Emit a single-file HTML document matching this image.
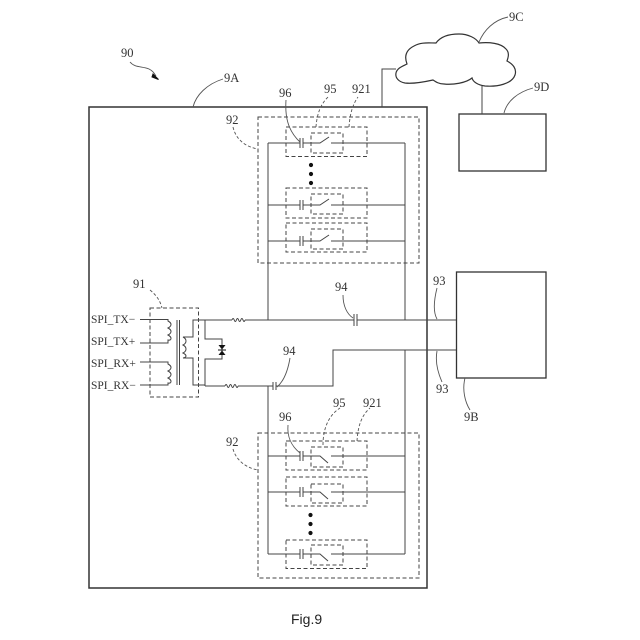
<!DOCTYPE html>
<html><head><meta charset="utf-8"><style>
html,body{margin:0;padding:0;background:#fff}
svg{display:block}
text{font-family:"Liberation Serif",serif;font-size:12.5px;fill:#333}
text.s{font-size:11.5px}
text.f{font-family:"Liberation Sans",sans-serif;font-size:14px;fill:#222}
</style></head><body>
<svg width="640" height="640" viewBox="0 0 640 640" xmlns="http://www.w3.org/2000/svg">
<defs>
<g id="up" fill="none" stroke="#444" stroke-width="1">
<path d="M0 0H32M35 0H52L61 -6M63 0H137"/>
<path d="M32 -5V5M35 -5V5"/>
</g>
<g id="dn" fill="none" stroke="#444" stroke-width="1">
<path d="M0 0H32M35 0H52L60 7M63 0H137"/>
<path d="M32 -5V5M35 -5V5"/>
</g>
</defs>
<rect width="640" height="640" fill="#fff"/>

<rect x="89" y="107" width="338" height="481" fill="none" stroke="#333" stroke-width="1.5"/>
<rect x="456.5" y="272" width="89.5" height="106" fill="none" stroke="#333" stroke-width="1.3"/>
<rect x="459" y="114" width="87" height="57" fill="none" stroke="#333" stroke-width="1.3"/>

<path d="M396 73C397 68 403 66 407 64C404 56 406 50 414 46C421 42 428 43 436 43C441 36 450 34 459 34C468 34 476 38 479 43C489 42 501 43 506 49C510 53 508 58 507 61C513 64 517 69 515 75C512 84 497 87 485 86C478 85 473 82 472 78C466 83 453 85 444 84C439 84 436 82 433 80C424 82 413 84 405 83C399 82 395 78 396 73Z" fill="#fff" stroke="#333" stroke-width="1.2"/>
<path d="M396 69H382V107M482 86V114" fill="none" stroke="#444" stroke-width="1"/>

<g fill="none" stroke="#444" stroke-width="1">
<path d="M268 320V143M405 320V143"/>
<path d="M268 386V554M405 350V554"/>
<path d="M205 320H232M245 320H354M357 320H456"/>
<path d="M205 386H225M238 386H273M276 386H333V350H456"/>
<path d="M354 314V326M357 314V326M273 382V390M276 382V390"/>
<path d="M232 320q1.1 -3 2.2 0t2.2 0t2.2 0t2.2 0t2.2 0t2 0"/>
<path d="M225 386q1.1 -3 2.2 0t2.2 0t2.2 0t2.2 0t2.2 0t2 0"/>
</g>

<use href="#up" x="268" y="143"/>
<use href="#up" x="268" y="205"/>
<use href="#up" x="268" y="241"/>
<use href="#dn" x="268" y="456"/>
<use href="#dn" x="268" y="492"/>
<use href="#dn" x="268" y="554"/>

<g fill="none" stroke="#444" stroke-width="1" stroke-dasharray="4 2.5">
<rect x="258" y="117" width="161" height="146"/>
<rect x="258" y="433" width="161" height="145"/>
<rect x="286" y="127" width="81" height="29.5"/>
<rect x="286" y="188" width="81" height="30"/>
<rect x="286" y="223" width="81" height="29"/>
<rect x="286" y="441" width="81" height="29"/>
<rect x="286" y="477" width="81" height="29"/>
<rect x="286" y="540" width="81" height="28.5"/>
<rect x="311" y="133" width="32" height="20"/>
<rect x="311" y="194" width="32" height="20"/>
<rect x="311" y="229" width="32" height="20"/>
<rect x="311" y="447" width="32" height="20"/>
<rect x="311" y="484" width="32" height="19"/>
<rect x="311" y="545" width="32" height="20"/>
<rect x="150" y="308" width="48.5" height="89"/>
</g>

<g fill="#111">
<circle cx="311" cy="165" r="2.1"/><circle cx="311" cy="174" r="2.1"/><circle cx="311" cy="183" r="2.1"/>
<circle cx="310.5" cy="515" r="2.1"/><circle cx="310.5" cy="524" r="2.1"/><circle cx="310.5" cy="533" r="2.1"/>
</g>

<g fill="none" stroke="#444" stroke-width="1">
<path d="M140 319.5H168V321q3 1.5 3 3.5t-3 3.5q3 1.5 3 3.5t-3 3.5q3 1.5 3 3.5t-3 1.5V343H140"/>
<path d="M140 362H168V364q3 1.5 3 3.5t-3 3.5q3 1.5 3 3.5t-3 3.5q3 1.5 3 3.5t-3 1.5V385H140"/>
<path d="M177 320V385M179.5 320V385"/>
<path d="M205 320H193V337H183q3 1.5 3 4t-3 4q3 1.5 3 4t-3 4q3 1.5 3 3t-3 2H193V385H205"/>
<path d="M205 320V339H222V359H205V386"/>
</g>
<path d="M218.5 345H225.5L222 349.5ZM218.5 355H225.5L222 350.5Z" fill="#111"/>
<path d="M218 350H226" stroke="#111" stroke-width="1"/>

<g fill="none" stroke="#555" stroke-width="0.9">
<path d="M130 62C135 68 142 66 149 69C153 71 154 73 156 76"/>
<path d="M193 107C196 95 207 84 223 79"/>
<path d="M479 42C484 30 494 20 508 17"/>
<path d="M504 113C507 101 518 92 533 88"/>
<path d="M286 100C285 115 287 130 300 142"/>
<path d="M288 425C287 436 291 446 300 453"/>
<path d="M343 295C343 306 347 314 353 318"/>
<path d="M290 358C288 370 284 381 277 387"/>
<path d="M437 288C434 300 433 312 437 319"/>
<path d="M437 351C435 362 438 373 442 382"/>
<path d="M465 378C462 390 465 402 470 410"/>
<path d="M150 290C156 295 160 300 162 308" stroke-dasharray="3 2"/>
<path d="M233 127C236 140 246 147 258 149" stroke-dasharray="3 2"/>
<path d="M233 449C236 460 246 468 258 470" stroke-dasharray="3 2"/>
<path d="M316 127C317 113 321 104 328 97" stroke-dasharray="3 2"/>
<path d="M349 127C350 113 353 104 358 97" stroke-dasharray="3 2"/>
<path d="M323 445C323 428 329 415 340 408" stroke-dasharray="3 2"/>
<path d="M357 441C358 425 362 415 370 408" stroke-dasharray="3 2"/>
</g>
<path d="M153 74L158.5 79.5L152 77Z" fill="#111" stroke="#111" stroke-width="1"/>

<text x="121" y="57">90</text>
<text x="224" y="82">9A</text>
<text x="226" y="124">92</text>
<text x="226" y="446">92</text>
<text x="279" y="97">96</text>
<text x="324" y="93">95</text>
<text x="352" y="93">921</text>
<text x="279" y="421">96</text>
<text x="333" y="407">95</text>
<text x="363" y="407">921</text>
<text x="509" y="21">9C</text>
<text x="534" y="91">9D</text>
<text x="335" y="291">94</text>
<text x="283" y="355">94</text>
<text x="433" y="285">93</text>
<text x="436" y="393">93</text>
<text x="464" y="421">9B</text>
<text x="133" y="288">91</text>
<text class="s" x="91" y="323">SPI_TX−</text>
<text class="s" x="91" y="345">SPI_TX+</text>
<text class="s" x="91" y="367">SPI_RX+</text>
<text class="s" x="91" y="389">SPI_RX−</text>
<text class="f" x="291" y="624">Fig.9</text>
</svg>
</body></html>
